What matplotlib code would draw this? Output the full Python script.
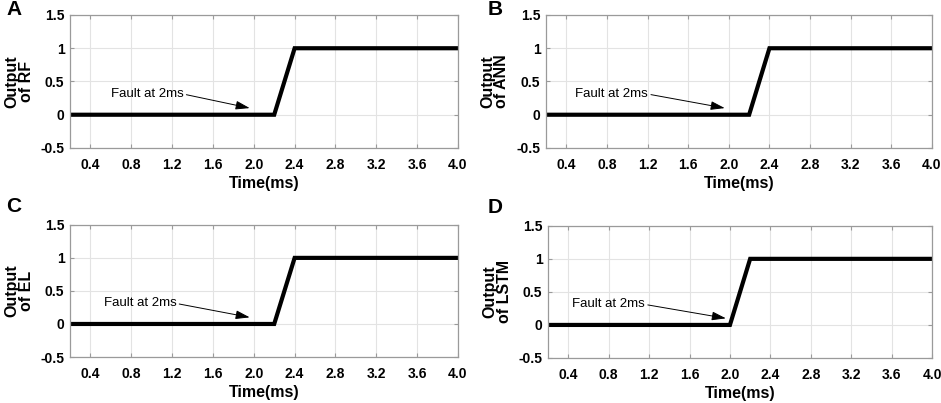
import matplotlib
matplotlib.use("Agg")
import matplotlib.pyplot as plt
import numpy as np

plt.rcParams['font.family'] = ['Liberation Sans', 'DejaVu Sans']

# Data
time_a = [0.2, 2.2, 2.4, 4.0]
out_rf = [0, 0, 1, 1]
time_b = [0.2, 2.2, 2.4, 4.0]
out_ann = [0, 0, 1, 1]
time_c = [0.2, 2.2, 2.4, 4.0]
out_el = [0, 0, 1, 1]
time_d = [0.2, 2.0, 2.2, 4.0]
out_lstm = [0, 0, 1, 1]

xticks = [0.4, 0.8, 1.2, 1.6, 2.0, 2.4, 2.8, 3.2, 3.6, 4.0]
xticklabels = ["0.4", "0.8", "1.2", "1.6", "2.0", "2.4", "2.8", "3.2", "3.6", "4.0"]
yticks = [-0.5, 0, 0.5, 1, 1.5]
yticklabels = ["-0.5", "0", "0.5", "1", "1.5"]

panels = [
    ("A", "Output\nof RF", time_a, out_rf, (0.0744, 0.6328, 0.4123, 0.330), (0.60, 0.31), (1.96, 0.10), (-0.165, 1.04)),
    ("B", "Output\nof ANN", time_b, out_ann, (0.5802, 0.6328, 0.4102, 0.330), (0.49, 0.31), (1.96, 0.10), (-0.152, 1.04)),
    ("C", "Output\nof EL", time_c, out_el, (0.0744, 0.1141, 0.4123, 0.328), (0.53, 0.31), (1.96, 0.10), (-0.165, 1.14)),
    ("D", "Output\nof LSTM", time_d, out_lstm, (0.5824, 0.1117, 0.4081, 0.328), (0.44, 0.31), (1.96, 0.10), (-0.157, 1.14)),
]

fig = plt.figure(figsize=(9.41, 4.03), dpi=100)
spine_col = "#9a9a9a"
for letter, ylabel, t, y, rect, txt, tip, lpos in panels:
    ax = fig.add_axes(rect)
    ax.plot(t, y, color="black", lw=3.0, solid_joinstyle="miter")
    ax.set_xlim(0.2, 4.0)
    ax.set_ylim(-0.5, 1.5)
    ax.set_xticks(xticks)
    ax.set_xticklabels(xticklabels, fontweight="bold", fontsize=10)
    ax.set_yticks(yticks)
    ax.set_yticklabels(yticklabels, fontweight="bold", fontsize=10)
    ax.grid(True, color="#e3e3e3", lw=0.8)
    ax.set_axisbelow(True)
    for s in ax.spines.values():
        s.set_color(spine_col)
        s.set_linewidth(0.9)
    ax.tick_params(direction="in", length=3, color=spine_col, top=True, right=True)
    ax.tick_params(axis="x", pad=7.5)
    ax.tick_params(axis="y", pad=4)
    ax.set_xlabel("Time(ms)", fontweight="bold", fontsize=11.5, labelpad=2.5)
    ax.set_ylabel(ylabel, fontweight="bold", fontsize=11.5, labelpad=5, linespacing=0.95)
    ax.annotate("Fault at 2ms", xy=tip, xytext=txt, fontsize=9.5,
                ha="left", va="center",
                arrowprops=dict(arrowstyle="-|>,head_length=0.9,head_width=0.28",
                                color="black", lw=0.7, shrinkA=0, shrinkB=0,
                                relpos=(1.0, 0.5)))
    ax.text(lpos[0], lpos[1], letter, transform=ax.transAxes, fontsize=15,
            fontweight="bold", ha="left", va="center")

fig.savefig("out.png", dpi=100)
